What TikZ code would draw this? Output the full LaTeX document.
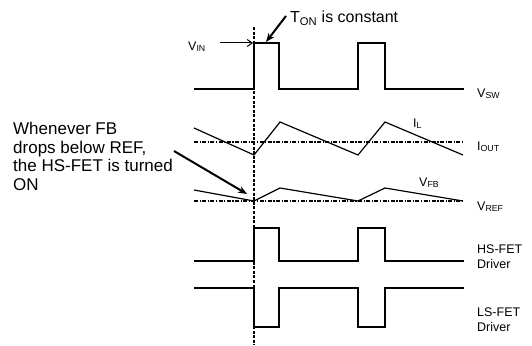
\documentclass[tikz,border=0pt]{standalone}
\usepackage{fontspec}
\setmainfont{Liberation Sans}
\usetikzlibrary{arrows.meta}

\tikzset{
  wave/.style={black, line width=1.2pt, line join=miter},
  refline/.style={black, line width=1.3pt, dash pattern=on 4pt off 1.5pt on 1.2pt off 1.5pt},
  syncline/.style={black, line width=1.4pt, dash pattern=on 3pt off 1.6pt},
  callout/.style={black, line width=2pt, -{Stealth[length=9pt,width=7pt]}},
  lbl/.style={inner sep=0pt, anchor=base west, font=\fontsize{12.5}{14.5}\selectfont},
}

\begin{document}
\begin{tikzpicture}[x=1pt,y=-1pt]
\useasboundingbox (0,0) rectangle (532,345);
\draw[wave] (194,89) -- (254,89) -- (254,43) -- (279,43) -- (279,89) -- (358,89) -- (358,43) -- (385,43) -- (385,89) -- (464,89);
\draw[refline] (194,142) -- (464,142);
\draw[wave] (194,128) -- (254,155) -- (280,122) -- (358,155) -- (385,122) -- (463,155);
\draw[refline] (194,201) -- (464,201);
\draw[wave] (194,190) -- (254,201) -- (280,188) -- (358,201) -- (385,188) -- (463,201);
\draw[wave] (194,261) -- (254,261) -- (254,228) -- (279,228) -- (279,261) -- (358,261) -- (358,228) -- (385,228) -- (385,261) -- (464,261);
\draw[wave] (194,288) -- (254,288) -- (254,327) -- (279,327) -- (279,288) -- (358,288) -- (358,327) -- (385,327) -- (385,288) -- (464,288);
\coordinate (synctop) at (254,27);
\coordinate (syncbot) at (254,345);
\draw[syncline] (synctop) -- (syncbot);

\node[lbl] (vin) at (188,50) {V\textsubscript{IN}};
\coordinate (vintail) at (220,43);
\coordinate (vinhead) at (253,43);
\draw[black, line width=1pt, -{Straight Barb[length=5pt,width=7pt]}] (vintail) -- (vinhead);

\node[lbl, font=\fontsize{16}{18}\selectfont] (ton) at (290,23) {T\textsubscript{ON} is constant};
\coordinate (tontail) at (286,16);
\coordinate (tonhead) at (266,42);
\draw[callout] (tontail) -- (tonhead);

\node[lbl] (vsw) at (477,97) {V\textsubscript{SW}};
\node[lbl] (il) at (413,127) {I\textsubscript{L}};
\node[lbl] (iout) at (477,150) {I\textsubscript{OUT}};
\node[lbl] (vfb) at (419,186) {V\textsubscript{FB}};
\node[lbl] (vref) at (477,210) {V\textsubscript{REF}};
\node[lbl, anchor=north west, align=left] (hsdrv) at (477,245) {HS-FET\\Driver};
\node[lbl, anchor=north west, align=left] (lsdrv) at (477,308) {LS-FET\\Driver};

\node[lbl, anchor=north west, align=left, font=\fontsize{17}{18.5}\selectfont] (note) at (13,122) {Whenever FB\\drops below REF,\\the HS-FET is turned\\ON};
\coordinate (notetail) at (174,151);
\coordinate (notehead) at (247,194);
\draw[callout] (notetail) -- (notehead);
\end{tikzpicture}
\end{document}
